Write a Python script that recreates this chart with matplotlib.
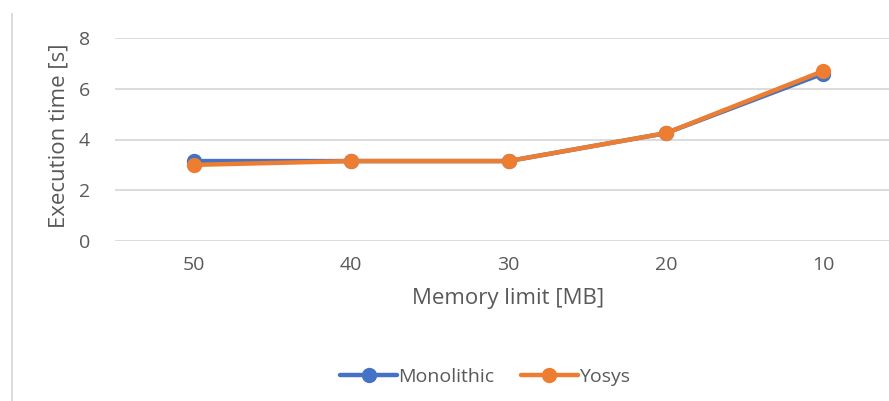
import matplotlib
matplotlib.use("Agg")
import matplotlib.pyplot as plt
from matplotlib.lines import Line2D

plt.rcParams['font.family'] = ['Open Sans', 'DejaVu Sans']

memory_limits = ["50", "40", "30", "20", "10"]
monolithic = [3.15, 3.15, 3.15, 4.25, 6.6]
yosys = [3.0, 3.15, 3.15, 4.25, 6.7]
y_ticks = [0, 2, 4, 6, 8]

text_color = "#595959"
grid_color = "#D9D9D9"
blue = "#4472C4"
orange = "#ED7D31"

fig = plt.figure(figsize=(8.89, 4.01), dpi=100)
ax = fig.add_axes([115 / 889, 160 / 401, 787 / 889, 203 / 401])

x = list(range(len(memory_limits)))
ax.plot(x, monolithic, color=blue, lw=3.2, marker="o", ms=10,
        solid_capstyle="round", clip_on=False, label="Monolithic", zorder=3)
ax.plot(x, yosys, color=orange, lw=3.2, marker="o", ms=10,
        solid_capstyle="round", clip_on=False, label="Yosys", zorder=4)

ax.set_xlim(-0.5, len(memory_limits) - 0.5)
ax.set_ylim(0, 8)
ax.set_yticks(y_ticks)
ax.set_xticks(x)
ax.set_xticklabels(memory_limits)
ax.yaxis.grid(True, color=grid_color, lw=1.3)
ax.set_axisbelow(True)
for s in ax.spines.values():
    s.set_visible(False)
ax.tick_params(length=0, colors=text_color, labelsize=14)
ax.tick_params(axis="x", pad=11)
ax.tick_params(axis="y", pad=18)

ax.set_xlabel("Memory limit [MB]", color=text_color, fontsize=16, labelpad=10)
ax.set_ylabel("Execution time [s]", color=text_color, fontsize=16)
ax.yaxis.set_label_coords(-0.058, 0.52)

fig.legend(loc="center", bbox_to_anchor=(485 / 889, 1 - 377 / 401), ncol=2,
           frameon=False, fontsize=14, labelcolor=text_color,
           handlelength=2.9, columnspacing=1.4, handletextpad=0.05)

# chart area border on the left
fig.add_artist(Line2D([11.5 / 889, 11.5 / 889], [0, 1 - 14 / 401],
                      transform=fig.transFigure, color=grid_color, lw=1.3))

fig.savefig("out.png", dpi=100)
